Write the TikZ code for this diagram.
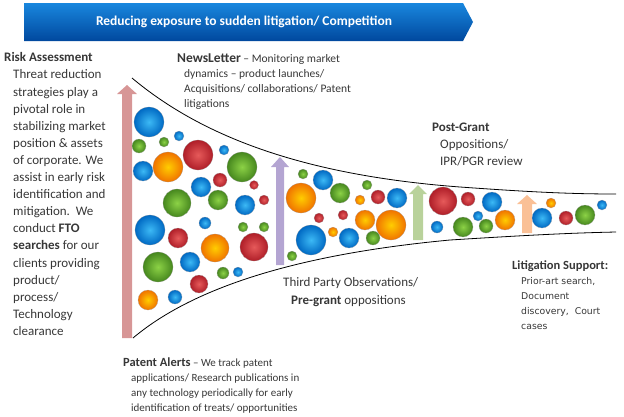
\documentclass[tikz,border=0pt]{standalone}
\usepackage{fontspec}
\setmainfont{Carlito}
\newfontfamily\verdana{DejaVu Sans}
\definecolor{bnrtop}{RGB}{25,135,222}
\definecolor{bnrbot}{RGB}{0,72,158}
\definecolor{txt}{RGB}{55,55,55}
\definecolor{pinkarr}{RGB}{215,150,150}
\definecolor{purparr}{RGB}{180,165,210}
\definecolor{grnarr}{RGB}{185,210,155}
\definecolor{orarr}{RGB}{250,192,150}
\definecolor{blue1}{RGB}{60,185,245}
\definecolor{blue2}{RGB}{0,105,195}
\definecolor{grn1}{RGB}{140,210,70}
\definecolor{grn2}{RGB}{70,135,30}
\definecolor{red1}{RGB}{230,90,90}
\definecolor{red2}{RGB}{175,30,40}
\definecolor{or1}{RGB}{255,205,0}
\definecolor{or2}{RGB}{240,115,0}
\begin{document}
\begin{tikzpicture}[x=1pt,y=-1pt,
  bub/.style={draw=gray!70, very thin},
  bblue/.style={bub, inner color=blue1, outer color=blue2},
  bgrn/.style={bub, inner color=grn1, outer color=grn2},
  bred/.style={bub, inner color=red1, outer color=red2},
  bor/.style={bub, inner color=or1, outer color=or2},
  txtbox/.style={inner sep=0pt, align=left, text=txt, anchor=north west}]
\useasboundingbox (0,0) rectangle (624,416);
%% banner
\shade[top color=bnrtop, bottom color=bnrbot] (24,3)--(463,3)--(473,22)--(463,41)--(24,41)--cycle;
\node[text=white, font=\fontsize{13.5}{16}\selectfont\bfseries] (title) at (244,22) {Reducing exposure to sudden litigation/ Competition};
%% big arrows
\fill[pinkarr] (122,338)--(122,94)--(117,94)--(127,85)--(137,94)--(132,94)--(132,338)--cycle;
\fill[purparr] (276,265)--(276,167)--(271,167)--(280,157)--(289,167)--(284,167)--(284,265)--cycle;
\fill[grnarr] (413,240)--(413,194)--(409,194)--(418,185)--(427,194)--(423,194)--(423,240)--cycle;
\fill[orarr] (522,233)--(522,204)--(517,204)--(527,195)--(537,204)--(532,204)--(532,233)--cycle;
%% funnel
\draw[thick] (132,78) .. controls (200,135) and (300,175) .. (460,187) .. controls (530,192) and (570,194) .. (616,194);
\draw[thick] (133,338) .. controls (190,290) and (290,255) .. (450,240) .. controls (530,235) and (570,233) .. (616,232);
%% bubbles
\foreach \x/\y/\r in {149/122/15, 179/136/5, 224/150/5, 143/171/10, 201/187/10, 245/205/10, 150/230/15, 205/223/6,
  190/262/10, 238/272/5, 175/297/7, 323/180/10, 397/198/10, 311/240/15, 349/238/10, 492/202/10, 437/227/6,
  478/216/5, 542/218/10, 602/205/5}
  \shadedraw[bblue] (\x,\y) circle (\r);
\foreach \x/\y/\r in {139/146/7, 164/142/5, 242/167/15, 177/203/14, 218/200/10, 243/227/5, 264/227/5, 158/267/15,
  223/273/6, 303/174/5, 340/193/10, 367/185/5, 373/238/7, 292/256/5, 463/227/10, 486/226/7, 585/215/10}
  \shadedraw[bgrn] (\x,\y) circle (\r);
\foreach \x/\y/\r in {198/155/15, 220/180/7, 254/185/4.5, 264/200/5, 178/238/10, 254/247/14, 199/284/9,
  378/197/7, 319/218/5, 343/215/5, 443/201/14, 468/199/7, 566/218/7}
  \shadedraw[bred] (\x,\y) circle (\r);
\foreach \x/\y/\r in {168/167/15, 215/248/14, 148/300/10, 301/198/15, 360/200/5, 365/220/10, 391/225/15,
  333/232/5, 505/220/10, 551/203/5}
  \shadedraw[bor] (\x,\y) circle (\r);
%% texts
\node[txtbox, font=\fontsize{13}{17.1}\selectfont] (risk) at (4,52.5) {\textbf{Risk Assessment}\\
  \hspace*{9pt}Threat reduction\\ \hspace*{9pt}strategies play a\\ \hspace*{9pt}pivotal role in\\
  \hspace*{9pt}stabilizing market\\ \hspace*{9pt}position \& assets\\ \hspace*{9pt}of corporate. We\\
  \hspace*{9pt}assist in early risk\\ \hspace*{9pt}identification and\\ \hspace*{9pt}mitigation.\ \ We\\
  \hspace*{9pt}conduct \textbf{FTO}\\ \hspace*{9pt}\textbf{searches} for our\\ \hspace*{9pt}clients providing\\
  \hspace*{9pt}product/\\ \hspace*{9pt}process/\\ \hspace*{9pt}Technology\\ \hspace*{9pt}clearance};
\node[txtbox, font=\fontsize{11.5}{15}\selectfont] (news) at (177,53.5) {{\fontsize{13.5}{15}\selectfont\bfseries NewsLetter} -- Monitoring market\\
  \hspace*{7pt}dynamics -- product launches/\\ \hspace*{7pt}Acquisitions/ collaborations/ Patent\\ \hspace*{7pt}litigations};
\node[txtbox, font=\fontsize{13}{17}\selectfont] (postgrant) at (432,122.5) {\textbf{Post-Grant}\\
  \hspace*{8pt}Oppositions/\\ \hspace*{8pt}IPR/PGR review};
\node[txtbox, font=\fontsize{13}{18}\selectfont] (thirdparty) at (283,277) {Third Party Observations/\\
  \hspace*{8pt}\textbf{Pre-grant} oppositions};
\node[txtbox, font=\fontsize{9.3}{15}\selectfont\verdana] (litig) at (512,260.5) {{\fontsize{12.5}{15}\selectfont\rmfamily\bfseries Litigation Support:}\\
  \hspace*{9pt}Prior-art search,\\ \hspace*{9pt}Document\\ \hspace*{9pt}discovery,\ \ Court\\ \hspace*{9pt}cases};
\node[txtbox, font=\fontsize{11}{15}\selectfont] (alerts) at (123,357.5) {{\fontsize{12.5}{15}\selectfont\bfseries Patent Alerts} -- We track patent\\
  \hspace*{8pt}applications/ Research publications in\\ \hspace*{8pt}any technology periodically for early\\
  \hspace*{8pt}identification of treats/ opportunities};
\end{tikzpicture}
\end{document}
